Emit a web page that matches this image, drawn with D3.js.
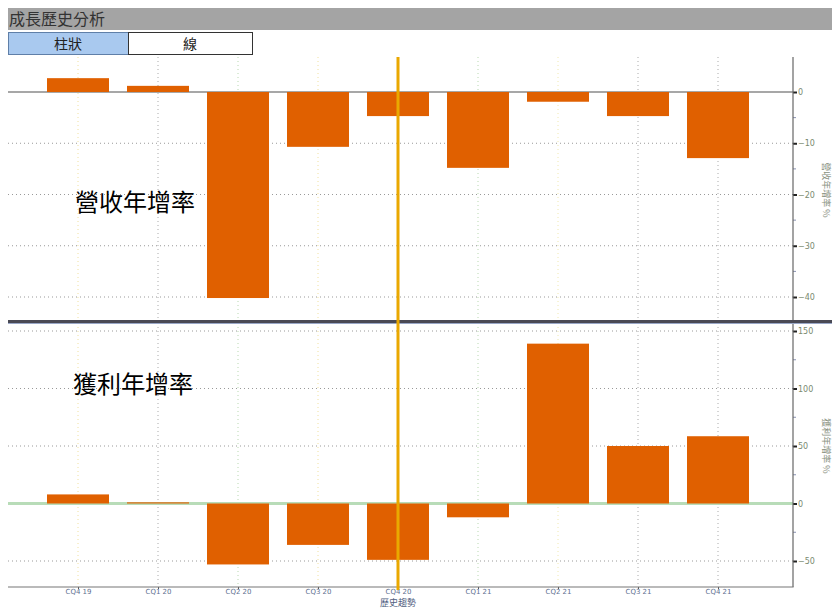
<!DOCTYPE html>
<html>
<head>
<meta charset="utf-8">
<script src="https://cdn.jsdelivr.net/npm/d3@7"></script>
<style>
  body { margin: 0; background: #fff; }
  svg { display: block; font-family: "Noto Sans CJK TC", "Noto Sans", sans-serif; }
</style>
</head>
<body>
<svg id="chart" width="832" height="608"></svg>
<script>
const QUARTERS = ["CQ4 19", "CQ1 20", "CQ2 20", "CQ3 20", "CQ4 20", "CQ1 21", "CQ2 21", "CQ3 21", "CQ4 21"];
const REVENUE_YOY = [2.7, 1.2, -40.2, -10.7, -4.7, -14.8, -1.9, -4.7, -12.9];
const PROFIT_YOY = [7.9, 1, -53, -36, -49, -12, 139, 50, 58.5];
const REVENUE_TICKS = [0, -10, -20, -30, -40];
const PROFIT_TICKS = [150, 100, 50, 0, -50];
const SELECTED = "CQ4 20";

const svg = d3.select("#chart");
const axisX = 793;
const barW = 62;
const gridColors = ["#f0e0a0", "#aaaaaa", "#b8d8b0", "#f0e0a0", "#aaaaaa", "#b8d8b0", "#f0e8b0", "#aaaaaa", "#aaaaaa"];

// Header bar and buttons
svg.append("rect").attr("x", 8).attr("y", 8).attr("width", 824).attr("height", 22).attr("fill", "#a4a4a4");
svg.append("text").attr("x", 9).attr("y", 25).attr("font-size", 16).attr("fill", "#333").text("成長歷史分析");
svg.append("rect").attr("x", 8.5).attr("y", 32.5).attr("width", 120).attr("height", 22)
    .attr("fill", "#a9c9ef").attr("stroke", "#5f7fa8");
svg.append("rect").attr("x", 128.5).attr("y", 32.5).attr("width", 124).attr("height", 22)
    .attr("fill", "#fff").attr("stroke", "#333");
svg.append("text").attr("x", 68).attr("y", 49).attr("text-anchor", "middle").attr("font-size", 14).attr("fill", "#222").text("柱狀");
svg.append("text").attr("x", 190).attr("y", 49).attr("text-anchor", "middle").attr("font-size", 14).attr("fill", "#222").text("線");

const x = d3.scalePoint().domain(QUARTERS).range([78, 718]);

function panel(cfg) {
    const y = d3.scaleLinear().domain(cfg.domain).range(cfg.range);
    const g = svg.append("g");

    // vertical dotted gridlines
    g.selectAll(".vgrid").data(QUARTERS).join("line")
        .attr("x1", d => x(d)).attr("x2", d => x(d))
        .attr("y1", cfg.top).attr("y2", cfg.bottom)
        .attr("stroke", (d, i) => gridColors[i]).attr("stroke-dasharray", "1,3");

    // horizontal dotted gridlines
    g.selectAll(".hgrid").data(cfg.ticks.filter(t => t !== 0)).join("line")
        .attr("x1", 8).attr("x2", axisX)
        .attr("y1", d => y(d)).attr("y2", d => y(d))
        .attr("stroke", "#999").attr("stroke-dasharray", "1,3");

    // zero line
    g.append("line").attr("x1", 8).attr("x2", axisX)
        .attr("y1", y(0)).attr("y2", y(0))
        .attr("stroke", cfg.zeroColor).attr("stroke-width", cfg.zeroWidth);

    // bars
    g.selectAll(".bar").data(cfg.values).join("rect")
        .attr("x", (d, i) => x(QUARTERS[i]) - barW / 2)
        .attr("width", barW)
        .attr("y", d => y(Math.max(0, d)))
        .attr("height", d => Math.abs(y(d) - y(0)))
        .attr("fill", "#e06000");

    // right axis
    const axis = g.append("g").attr("transform", `translate(${axisX},0)`)
        .call(d3.axisRight(y).tickValues(cfg.ticks).tickSize(4).tickPadding(2));
    axis.select(".domain").remove();
    axis.selectAll(".tick line").attr("stroke", "#222").attr("stroke-width", 2);
    axis.selectAll(".tick text").attr("font-size", 8).attr("fill", "#7a8a70")
        .attr("font-family", "DejaVu Sans").attr("x", 5);
    const minor = d3.range(cfg.ticks.length - 1).map(i => (cfg.ticks[i] + cfg.ticks[i + 1]) / 2);
    g.selectAll(".minor").data(minor).join("line")
        .attr("x1", axisX).attr("x2", axisX + 3)
        .attr("y1", d => y(d)).attr("y2", d => y(d)).attr("stroke", "#8890b0");
    g.append("line").attr("x1", axisX).attr("x2", axisX).attr("y1", cfg.top).attr("y2", cfg.bottom)
        .attr("stroke", "#666").attr("stroke-width", 1.2);

    g.append("text").attr("transform", `translate(823,${cfg.labelY}) rotate(90)`)
        .attr("text-anchor", "middle").attr("font-size", 9).attr("fill", "#889080").text(cfg.axisLabel);

    g.append("text").attr("x", cfg.titleX).attr("y", cfg.titleY).attr("font-size", 24)
        .attr("fill", "#000").text(cfg.title);
    return y;
}

panel({
    domain: [-40, 0], range: [297, 92], top: 57, bottom: 320,
    ticks: REVENUE_TICKS, values: REVENUE_YOY,
    zeroColor: "#8a8a8a", zeroWidth: 1.5,
    title: "營收年增率", titleX: 75, titleY: 211,
    axisLabel: "營收年增率 %", labelY: 190
});

panel({
    domain: [-50, 150], range: [561, 331], top: 323, bottom: 587,
    ticks: PROFIT_TICKS, values: PROFIT_YOY,
    zeroColor: "#b8dcb8", zeroWidth: 3,
    title: "獲利年增率", titleX: 73, titleY: 393,
    axisLabel: "獲利年增率 %", labelY: 446
});

// divider between panels
svg.append("rect").attr("x", 8).attr("y", 320).attr("width", 824).attr("height", 3).attr("fill", "#4a4a55");
svg.append("line").attr("x1", 8).attr("x2", 832).attr("y1", 323.5).attr("y2", 323.5).attr("stroke", "#9aa8c8");

// bottom x axis
const xAxis = svg.append("g").attr("transform", "translate(0,587)")
    .call(d3.axisBottom(x).tickSize(2).tickPadding(0));
xAxis.select(".domain").remove();
xAxis.selectAll(".tick line").attr("stroke", "#555");
xAxis.selectAll(".tick text").attr("font-size", 7).attr("fill", "#607090").attr("font-family", "DejaVu Sans");
svg.append("line").attr("x1", 8).attr("x2", axisX + 0.6).attr("y1", 587).attr("y2", 587)
    .attr("stroke", "#777").attr("stroke-width", 1.2);
svg.append("text").attr("x", 398).attr("y", 606).attr("text-anchor", "middle")
    .attr("font-size", 9).attr("fill", "#506080").text("歷史趨勢");

// selected-period marker
svg.append("line").attr("x1", x(SELECTED)).attr("x2", x(SELECTED)).attr("y1", 57).attr("y2", 590)
    .attr("stroke", "#eaa800").attr("stroke-width", 3);
</script>
</body>
</html>
